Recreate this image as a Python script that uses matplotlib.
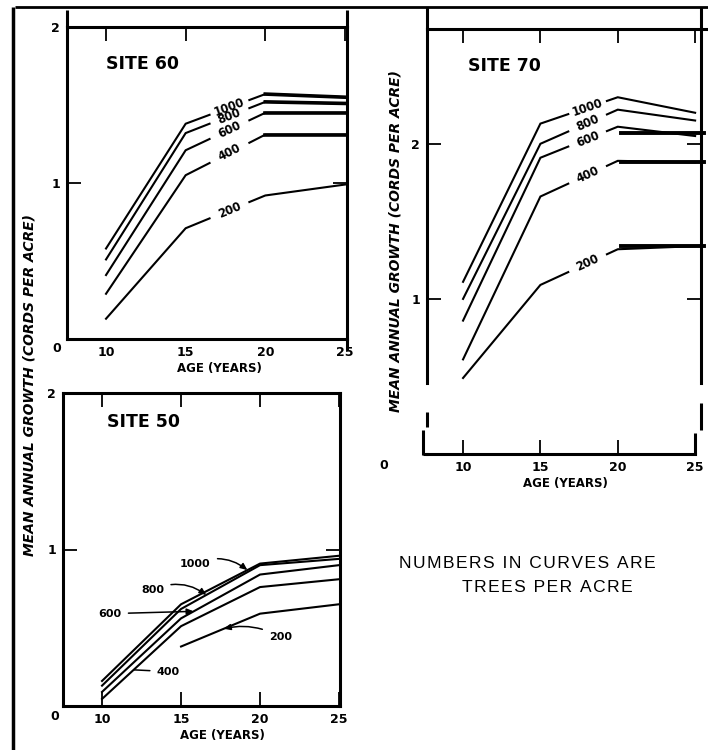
"""Mean annual growth by stand age, density and site index (three panels)."""

import matplotlib

matplotlib.use("Agg")

import matplotlib.pyplot as plt
import numpy as np
from matplotlib.lines import Line2D

FIG_W_PX = 708
FIG_H_PX = 750

AGE_YEARS = [10, 15, 20, 25]
AGE_TICKS = [10, 15, 20, 25]
DENSITY_LABELS = ["1000", "800", "600", "400", "200"]

# cords per acre, one row per density (1000, 800, 600, 400, 200 trees/acre)
SITE_60_GROWTH = [
    [0.58, 1.38, 1.57, 1.55],
    [0.51, 1.32, 1.52, 1.51],
    [0.41, 1.21, 1.45, 1.45],
    [0.29, 1.05, 1.31, 1.31],
    [0.13, 0.71, 0.92, 0.99],
]
SITE_70_GROWTH = [
    [1.11, 2.13, 2.30, 2.20],
    [1.00, 2.00, 2.22, 2.15],
    [0.86, 1.91, 2.11, 2.05],
    [0.61, 1.66, 1.89, 1.88],
    [0.49, 1.09, 1.32, 1.34],
]
SITE_50_GROWTH = [
    [0.16, 0.65, 0.91, 0.96],
    [0.13, 0.62, 0.90, 0.94],
    [0.09, 0.56, 0.84, 0.90],
    [0.045, 0.51, 0.76, 0.81],
    [np.nan, 0.38, 0.59, 0.65],
]
# heavy retouch strokes on the scanned original
SITE_70_OVERLAY_LEVELS = [2.07, 1.88, 1.34]

TICK_FONT = dict(fontsize=9, fontweight="bold", family="DejaVu Sans")
XLABEL_FONT = dict(fontsize=8.5, fontweight="bold", family="DejaVu Sans")
CURVE_FONT = dict(fontsize=8.3, fontweight="bold", family="DejaVu Sans")
NOTE_FONT = dict(fontsize=12.5, family=["Liberation Sans", "DejaVu Sans"])
HAIR = "\u200a"

fig = plt.figure(figsize=(FIG_W_PX / 100, FIG_H_PX / 100), dpi=100)


def px_rect(left, top, right, bottom):
    return [
        left / FIG_W_PX,
        1 - bottom / FIG_H_PX,
        (right - left) / FIG_W_PX,
        (bottom - top) / FIG_H_PX,
    ]


def fig_xy(x, y):
    return x / FIG_W_PX, 1 - y / FIG_H_PX


def rule(x0, y0, x1, y1, lw=2.0):
    (a, b), (c, d) = fig_xy(x0, y0), fig_xy(x1, y1)
    fig.add_artist(
        Line2D([a, c], [b, d], transform=fig.transFigure, color="black",
               lw=lw, solid_capstyle="butt")
    )


def fig_label(x, y, text, **kw):
    fx, fy = fig_xy(x, y)
    fig.text(fx, fy, text, ha="center", va="center", **kw)


def spaced(text):
    return HAIR.join(text)


def style_axis(ax, xlim, ylim, yticks, xlabel_x):
    ax.set_xlim(*xlim)
    ax.set_ylim(*ylim)
    ax.set_xticks(AGE_TICKS)
    ax.set_yticks(yticks)
    ax.set_xticklabels([str(t) for t in AGE_TICKS], **TICK_FONT)
    ax.set_yticklabels([str(t) for t in yticks], **TICK_FONT)
    ax.tick_params(direction="in", top=True, right=True, length=10,
                   width=1.3, pad=5)
    for spine in ax.spines.values():
        spine.set_linewidth(2.2)
    ax.set_xlabel("AGE (YEARS)", **XLABEL_FONT)
    ax.xaxis.set_label_coords(xlabel_x, -0.075 * 312 / ax.bbox.height)


def plot_plain(ax, growth):
    for series in growth:
        ax.plot(AGE_YEARS, series, color="black", lw=1.5,
                solid_joinstyle="miter")


def plot_labelled(ax, growth, x_mid, half_gap):
    """Curves broken between ages 15 and 20, density written in the gap."""
    for series, text in zip(growth, DENSITY_LABELS):
        x_lo, x_hi = x_mid - half_gap, x_mid + half_gap
        y_lo, y_mid, y_hi = np.interp([x_lo, x_mid, x_hi], AGE_YEARS, series)
        ax.plot(AGE_YEARS[:2] + [x_lo], list(series[:2]) + [y_lo],
                color="black", lw=1.5, solid_joinstyle="miter")
        ax.plot([x_hi] + AGE_YEARS[2:], [y_hi] + list(series[2:]),
                color="black", lw=1.5, solid_joinstyle="miter")
        p0 = ax.transData.transform((AGE_YEARS[1], series[1]))
        p1 = ax.transData.transform((AGE_YEARS[2], series[2]))
        angle = np.degrees(np.arctan2(p1[1] - p0[1], p1[0] - p0[0]))
        ax.text(x_mid, y_mid, text, rotation=angle, rotation_mode="anchor",
                ha="center", va="center", **CURVE_FONT)


# --- SITE 60 -------------------------------------------------------------
ax60 = fig.add_axes(px_rect(67, 27, 347, 339))
style_axis(ax60, (7.55, 25.13), (0, 2), [1, 2], 0.543)
ax60.tick_params(bottom=False)
plot_labelled(ax60, SITE_60_GROWTH, 17.75, 1.25)
for series in SITE_60_GROWTH[:4]:
    ax60.plot(AGE_YEARS[2:], series[2:], color="black", lw=2.6, clip_on=False)
ax60.text(0.14, 0.881, "SITE 60", transform=ax60.transAxes, ha="left",
          va="center", fontsize=12.5, fontweight="bold")

# --- SITE 70 -------------------------------------------------------------
ax70 = fig.add_axes(px_rect(427, 29, 701, 454))
style_axis(ax70, (7.67, 25.38), (0, 2.74), [1, 2], 0.504)
plot_labelled(ax70, SITE_70_GROWTH, 18.05, 1.25)
for level in SITE_70_OVERLAY_LEVELS:
    ax70.plot([20.2, 25.6], [level, level], color="black", lw=2.8,
              clip_on=False)
ax70.text(0.15, 0.913, "SITE 70", transform=ax70.transAxes, ha="left",
          va="center", fontsize=12.5, fontweight="bold")
ax70.set_ylabel("MEAN ANNUAL GROWTH (CORDS PER ACRE)", fontsize=10,
                fontweight="bold", style="italic", labelpad=6)
# the scanned frame is broken near the bottom corners
ax70.spines["left"].set_bounds(0.46, 2.74)
ax70.spines["right"].set_bounds(0.46, 2.74)
ax70.spines["bottom"].set_bounds(7.67, 25.0)

# --- SITE 50 -------------------------------------------------------------
ax50 = fig.add_axes(px_rect(63, 393, 340, 706))
style_axis(ax50, (7.53, 25.06), (0, 2), [1, 2], 0.574)
plot_plain(ax50, SITE_50_GROWTH)
ax50.text(0.159, 0.907, "SITE 50", transform=ax50.transAxes, ha="left",
          va="center", fontsize=12.5, fontweight="bold")

# (label, text x, text y, age where the pointer meets the curve, curve, bend)
SITE_50_CALLOUTS = [
    ("1000", 15.9, 0.91, 19.2, 0, "arc3,rad=-0.3", True),
    ("800", 13.2, 0.74, 16.6, 1, "arc3,rad=-0.3", True),
    ("600", 10.5, 0.59, 15.8, 2, "arc3,rad=0", True),
    ("200", 21.3, 0.44, 17.7, 4, "arc3,rad=0.2", True),
    ("400", 14.2, 0.22, 12.0, 3, "arc3,rad=0", False),
]
for text, tx, ty, cx, idx, conn, head in SITE_50_CALLOUTS:
    series = np.array(SITE_50_GROWTH[idx])
    ok = ~np.isnan(series)
    cy = np.interp(cx, np.array(AGE_YEARS)[ok], series[ok])
    style = "-|>,head_length=0.5,head_width=0.22" if head else "-"
    ax50.annotate(
        text, xy=(cx, cy), xytext=(tx, ty), ha="center", va="center",
        arrowprops=dict(arrowstyle=style, color="black", lw=1.1,
                        connectionstyle=conn, shrinkA=3, shrinkB=0),
        fontsize=8, fontweight="bold",
    )

# --- shared text ---------------------------------------------------------
fig_label(57, 348, "0", **TICK_FONT)
fig_label(55, 716, "0", **TICK_FONT)
fig_label(384, 466, "0", **TICK_FONT)
fig_label(30, 385, "MEAN ANNUAL GROWTH (CORDS PER ACRE)", rotation=90,
          fontsize=10, fontweight="bold", style="italic")
fig_label(527, 563, spaced("NUMBERS IN CURVES ARE"), **NOTE_FONT)
fig_label(547, 587, spaced("TREES PER ACRE"), **NOTE_FONT)

# --- page rules from the scanned sheet -----------------------------------
rule(15, 7, 708, 7, lw=2.0)
rule(13, 7, 13, 750, lw=2.5)
rule(67, 10, 67, 27, lw=2.2)
rule(347, 10, 347, 27, lw=2.2)
rule(347, 339, 347, 350, lw=2.2)
rule(427, 7, 427, 29, lw=2.2)
rule(701, 7, 701, 29, lw=2.2)
rule(701, 29, 708, 29, lw=2.2)
rule(427, 412, 427, 427, lw=2.2)
rule(423, 430, 423, 455, lw=2.2)
rule(423, 454, 428, 454, lw=2.2)
rule(701, 403, 701, 430, lw=2.2)
rule(695, 433, 695, 455, lw=2.2)

fig.savefig("out.png", dpi=100)
